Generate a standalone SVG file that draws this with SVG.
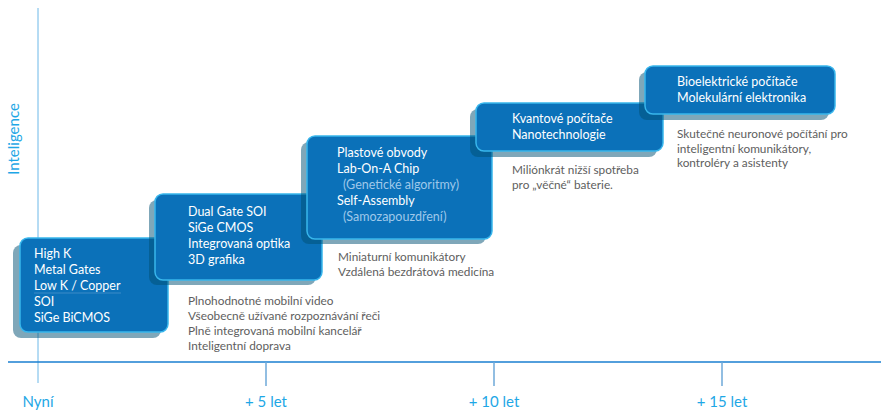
<svg xmlns="http://www.w3.org/2000/svg" width="881" height="415" viewBox="0 0 881 415">
<style>
.sh{fill:#004f73;fill-opacity:0.5}
.bx{fill:#0b71b9;stroke:#38b6ec;stroke-width:1.5}
.t{font-family:Lato,"Open Sans","DejaVu Sans",sans-serif;font-size:12.5px;fill:#ffffff}
.tl{font-family:Lato,"Open Sans","DejaVu Sans",sans-serif;font-size:12.5px;fill:#9fc8ea}
.g{font-family:Lato,"Open Sans","DejaVu Sans",sans-serif;font-size:11.8px;fill:#5e5e5e}
.ax{font-family:Lato,"Open Sans","DejaVu Sans",sans-serif;font-size:15px;fill:#1ea7e6;text-anchor:middle}
</style>
<g id="axes">
<line x1="38" y1="8" x2="38" y2="383" stroke="#6cb8e8" stroke-width="1"/>
<line x1="8" y1="362" x2="881" y2="362" stroke="#1a7fd0" stroke-width="1.5"/>
<line x1="266" y1="362" x2="266" y2="386" stroke="#6ea9d8" stroke-width="1.5"/>
<line x1="494" y1="362" x2="494" y2="386" stroke="#6ea9d8" stroke-width="1.5"/>
<line x1="722" y1="362" x2="722" y2="386" stroke="#6ea9d8" stroke-width="1.5"/>
<text class="ax" x="38" y="407">Nyní</text>
<text class="ax" x="266" y="407">+ 5 let</text>
<text class="ax" x="494" y="407">+ 10 let</text>
<text class="ax" x="722" y="407">+ 15 let</text>
<text class="ax" transform="translate(19,139) rotate(-90)">Inteligence</text>
</g>
<g id="box1">
<rect class="sh" x="13" y="245" width="148" height="93" rx="8"/>
<rect class="bx" x="20" y="238" width="148" height="94" rx="8"/>
<text class="t" x="34" y="258">High K</text>
<text class="t" x="34" y="274">Metal Gates</text>
<text class="t" x="34" y="290">Low K / Copper</text>
<line x1="34" y1="293" x2="121" y2="293" stroke="#5f9fd0" stroke-width="0.6"/>
<text class="t" x="34" y="306">SOI</text>
<text class="t" x="34" y="322">SiGe BiCMOS</text>
</g>
<g id="box2">
<rect class="sh" x="149" y="200" width="167" height="85" rx="8"/>
<rect class="bx" x="155" y="194" width="167" height="86" rx="8"/>
<text class="t" x="188" y="216">Dual Gate SOI</text>
<text class="t" x="188" y="232">SiGe CMOS</text>
<text class="t" x="188" y="248">Integrovaná optika</text>
<text class="t" x="188" y="264">3D grafika</text>
</g>
<g id="box3">
<rect class="sh" x="301" y="142" width="185" height="102" rx="8"/>
<rect class="bx" x="307" y="136" width="185" height="103" rx="8"/>
<text class="t" x="337" y="157">Plastové obvody</text>
<text class="t" x="337" y="173">Lab-On-A Chip</text>
<text class="tl" x="343" y="189">(Genetické algoritmy)</text>
<text class="t" x="337" y="205">Self-Assembly</text>
<text class="tl" x="343" y="221">(Samozapouzdření)</text>
</g>
<g id="box4">
<rect class="sh" x="470" y="109" width="187" height="48" rx="8"/>
<rect class="bx" x="476" y="103" width="187" height="48" rx="8"/>
<text class="t" x="512" y="123">Kvantové počítače</text>
<text class="t" x="512" y="139">Nanotechnologie</text>
</g>
<g id="box5">
<rect class="sh" x="639" y="72" width="190" height="48" rx="8"/>
<rect class="bx" x="645" y="66" width="190" height="48" rx="8"/>
<text class="t" x="677" y="86">Bioelektrické počítače</text>
<text class="t" x="677" y="102">Molekulární elektronika</text>
</g>
<g id="notes1">
<text class="g" x="188" y="305">Plnohodnotné mobilní video</text>
<text class="g" x="188" y="320">Všeobecně užívané rozpoznávání řeči</text>
<text class="g" x="188" y="335">Plně integrovaná mobilní kancelář</text>
<text class="g" x="188" y="350">Inteligentní doprava</text>
</g>
<g id="notes2">
<text class="g" x="338" y="261">Miniaturní komunikátory</text>
<text class="g" x="338" y="276">Vzdálená bezdrátová medicína</text>
</g>
<g id="notes3">
<text class="g" x="512" y="174">Miliónkrát nižší spotřeba</text>
<text class="g" x="512" y="189">pro „věčné“ baterie.</text>
</g>
<g id="notes4">
<text class="g" x="677" y="138">Skutečné neuronové počítání pro</text>
<text class="g" x="677" y="153">inteligentní komunikátory,</text>
<text class="g" x="677" y="167">kontroléry a asistenty</text>
</g>
</svg>
